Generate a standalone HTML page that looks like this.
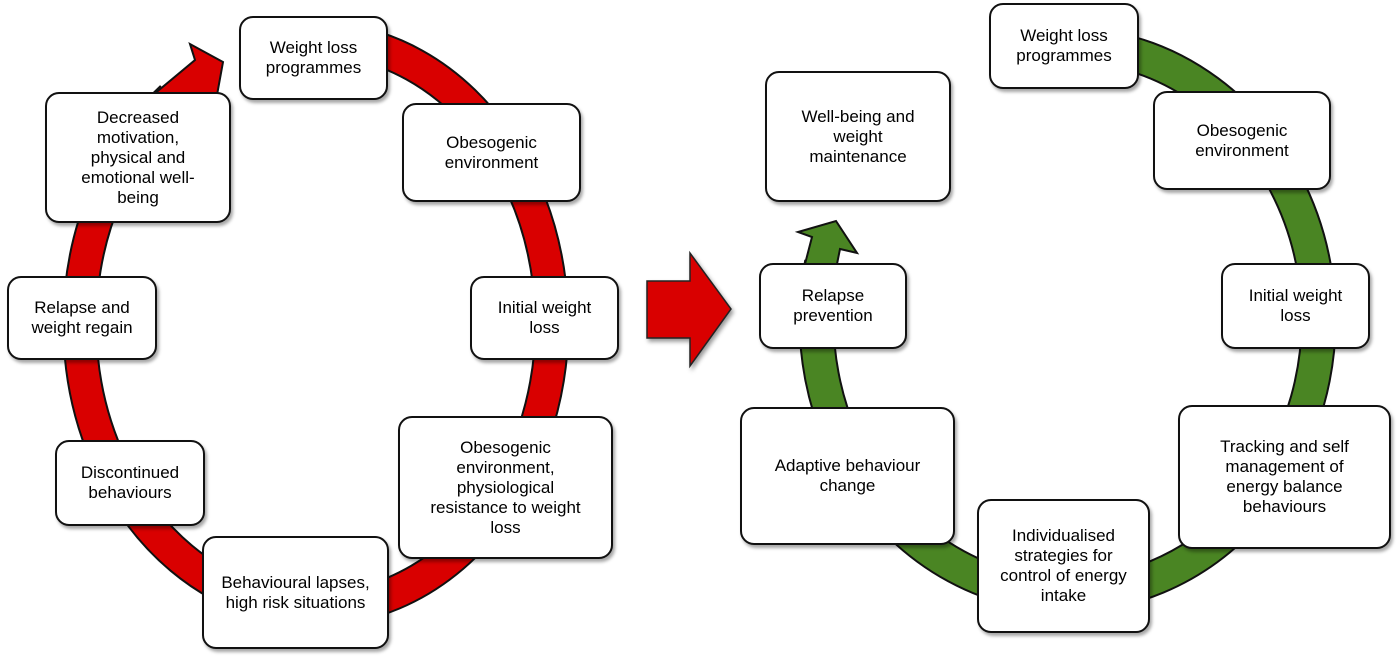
<!DOCTYPE html>
<html><head><meta charset="utf-8"><style>
body{margin:0;width:1400px;height:663px;background:#fff;position:relative;overflow:hidden;font-family:"Liberation Sans",Arial,sans-serif}
.b{position:absolute;box-sizing:border-box;border:2px solid #111;border-radius:14px;background:#fff;display:flex;align-items:center;justify-content:center;text-align:center;font-size:17px;line-height:20px;color:#000;box-shadow:2px 3px 3px rgba(0,0,0,0.35);padding:0 5px}
svg{position:absolute;left:0;top:0}
</style></head><body>
<svg width="1400" height="663">
<path d="M 313 39 A 236 285 0 1 1 172 98" fill="none" stroke="#111" stroke-width="35"/>
<path d="M 313 39 A 236 285 0 1 1 172 98" fill="none" stroke="#d90000" stroke-width="31"/>
<polygon points="153,95 195,60 190,44 223,62 217,95" fill="#d90000" stroke="#111" stroke-width="2" stroke-linejoin="miter"/>
<path d="M 822 263 A 251 275 0 1 0 1000 55" fill="none" stroke="#111" stroke-width="36"/>
<path d="M 822 263 A 251 275 0 1 0 1000 55" fill="none" stroke="#4a8523" stroke-width="32"/>
<polygon points="805,264 812,237 798,232 836,221 857,253 840,249 837,264" fill="#4a8523" stroke="#111" stroke-width="2"/>
<polygon points="647,281 690,281 690,253 731,309 690,366 690,338 647,338" fill="#d90000" stroke="#222" stroke-width="1.5" style="filter:drop-shadow(2px 3px 2px rgba(0,0,0,0.4))"/>
</svg>
<div class="b" style="left:239px;top:16px;width:149px;height:84px">Weight loss<br>programmes</div>
<div class="b" style="left:402px;top:103px;width:179px;height:99px">Obesogenic<br>environment</div>
<div class="b" style="left:470px;top:276px;width:149px;height:84px">Initial weight<br>loss</div>
<div class="b" style="left:398px;top:416px;width:215px;height:143px">Obesogenic<br>environment,<br>physiological<br>resistance to weight<br>loss</div>
<div class="b" style="left:202px;top:536px;width:187px;height:113px">Behavioural lapses,<br>high risk situations</div>
<div class="b" style="left:55px;top:440px;width:150px;height:86px">Discontinued<br>behaviours</div>
<div class="b" style="left:7px;top:276px;width:150px;height:84px">Relapse and<br>weight regain</div>
<div class="b" style="left:45px;top:92px;width:186px;height:131px">Decreased<br>motivation,<br>physical and<br>emotional well-<br>being</div>

<div class="b" style="left:989px;top:3px;width:150px;height:86px">Weight loss<br>programmes</div>
<div class="b" style="left:1153px;top:91px;width:178px;height:99px">Obesogenic<br>environment</div>
<div class="b" style="left:1221px;top:263px;width:149px;height:86px">Initial weight<br>loss</div>
<div class="b" style="left:1178px;top:405px;width:213px;height:144px">Tracking and self<br>management of<br>energy balance<br>behaviours</div>
<div class="b" style="left:977px;top:499px;width:173px;height:134px">Individualised<br>strategies for<br>control of energy<br>intake</div>
<div class="b" style="left:740px;top:407px;width:215px;height:138px">Adaptive behaviour<br>change</div>
<div class="b" style="left:759px;top:263px;width:148px;height:86px">Relapse<br>prevention</div>
<div class="b" style="left:765px;top:71px;width:186px;height:131px">Well-being and<br>weight<br>maintenance</div>
</body></html>
